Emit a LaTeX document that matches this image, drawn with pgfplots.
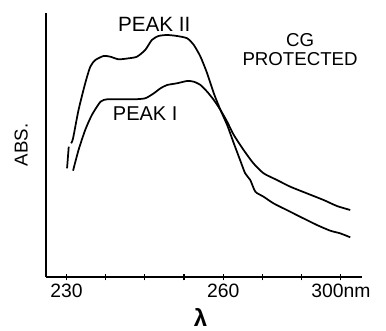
\documentclass[border=0pt]{standalone}
\usepackage{pgfplots}
\pgfplotsset{compat=1.18}
\usepackage{fontspec}
\setmainfont{Liberation Sans}
\begin{document}
\begin{tikzpicture}
\begin{axis}[
  scale only axis,
  width=237pt, height=198pt,
  xmin=-0.52, xmax=7.54, ymin=0, ymax=264,
  axis x line=bottom, axis y line=left,
  axis line style={-, line width=1.1pt},
  ytick=\empty,
  xtick={0,1,2,3,4,5,6,7},
  xticklabels={230,,,,260,,,300nm},
  xtick align=center,
  major tick length=5pt,
  tick style={line width=0.9pt, black},
  /pgf/number format/assume math mode=true,
  ticklabel style={font=\fontsize{14.5}{16}\selectfont},
  xticklabel style={yshift=1pt},
  clip=false,
]
% Peak II (upper), first short segment
\addplot[black, line width=1.3pt, smooth, tension=0.4] coordinates {(0.017,108.7) (0.06,130.3)};
% Peak II main
\addplot[black, line width=1.3pt, smooth, tension=0.4] coordinates {
(0.12,133.7) (0.17,138.7) (0.31,167) (0.48,193.7) (0.61,210.3) (0.74,217) (0.95,221)
(1.12,220.3) (1.33,217.7) (1.59,218.7) (1.80,220.3) (2.01,227) (2.18,237) (2.35,241)
(2.57,242) (2.82,241) (3.08,238.7) (3.25,232) (3.42,220.3) (3.59,203.7) (3.76,183.7)
(3.93,167) (4.10,152) (4.27,133.7) (4.43,117) (4.56,103.7) (4.69,97) (4.82,85.3)
(5.03,80.3) (5.28,73.7) (5.62,67) (5.96,60.3) (6.39,52) (6.73,46.3) (6.98,43.7) (7.24,39.7)
};
% Peak I (lower)
\addplot[black, line width=1.3pt, smooth, tension=0.4] coordinates {
(0.17,106.3) (0.31,127) (0.48,147) (0.65,162) (0.87,175.3) (1.04,177.7) (1.29,177.7)
(1.72,177.7) (2.01,178.7) (2.23,183.7) (2.40,188.7) (2.57,192) (2.82,193.7) (3.08,196)
(3.25,195.3) (3.42,192) (3.59,185.3) (3.76,177) (3.93,167) (4.10,155.3) (4.27,142)
(4.52,127) (4.77,113.7) (5.03,103.7) (5.37,97) (5.71,90.3) (6.13,83.7) (6.56,77)
(6.90,71) (7.24,67)
};
\node[font=\fontsize{15.5}{17}\selectfont] at (axis cs:2.24,253) {PEAK II};
\node[font=\fontsize{15}{17}\selectfont] at (axis cs:2.01,163) {PEAK I};
\node[font=\fontsize{14}{15}\selectfont] at (axis cs:5.96,237) {CG};
\node[font=\fontsize{14}{15}\selectfont] at (axis cs:5.96,218) {PROTECTED};
\node[font=\fontsize{14}{16}\selectfont, rotate=90] at (axis cs:-1.15,132) {ABS.};
\node[font=\fontsize{18}{20}\selectfont\bfseries, inner sep=0pt] at (axis cs:3.42,-40) {λ};
\end{axis}
\pgfresetboundingbox
\path[use as bounding box] (-34.5pt,-40pt) rectangle (255pt,207.75pt);
\end{tikzpicture}
\end{document}
